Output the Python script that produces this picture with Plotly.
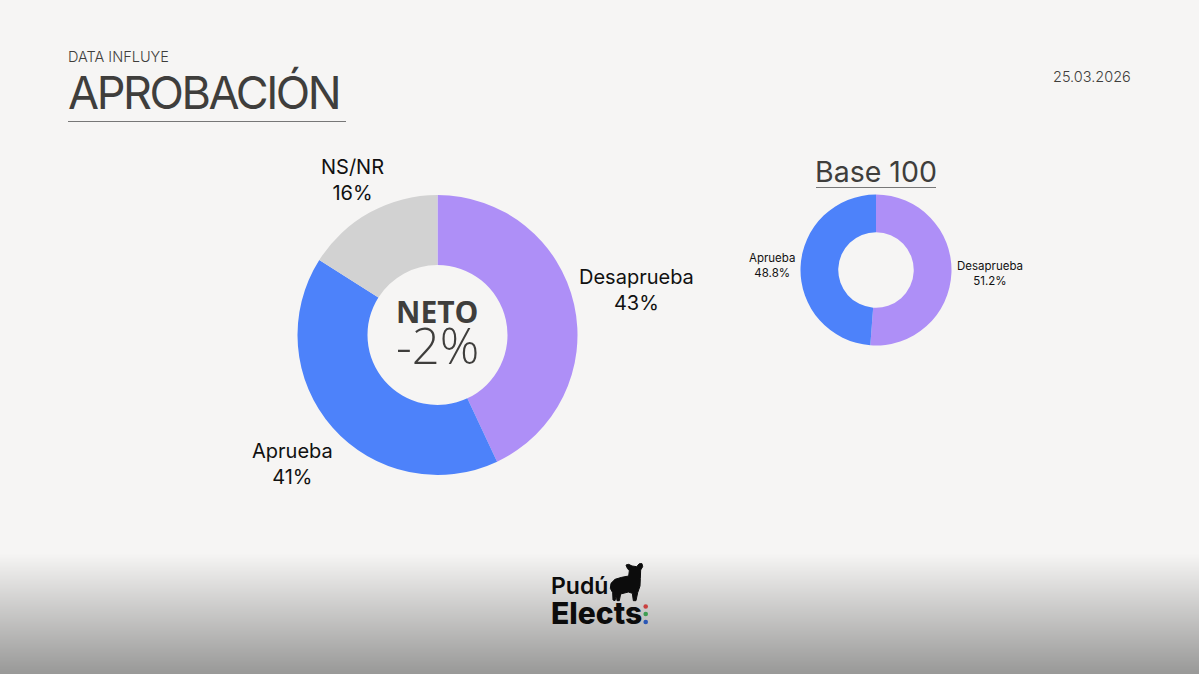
import plotly.graph_objects as go

W = 1199
H = 674
BG = "#F6F5F4"
INK = "#3F3E3C"

labels_main = ["Desaprueba", "Aprueba", "NS/NR"]
values_main = [43, 41, 16]
colors_main = ["#AE8FF7", "#4D82FA", "#D2D2D2"]

labels_base = ["Desaprueba", "Aprueba"]
values_base = [51.2, 48.8]
colors_base = ["#AE8FF7", "#4D82FA"]

neto = -2
fecha = "25.03.2026"
titulo = "APROBACIÓN"


def px(x):
    return x / W


def py(y):
    return 1 - y / H


def donut(labels, values, colors, cx, cy, r):
    return go.Pie(
        labels=labels, values=values, hole=0.5, sort=False, direction="clockwise",
        rotation=0, marker=dict(colors=colors, line=dict(width=0)),
        textinfo="none", hoverinfo="label+percent", showlegend=False,
        domain=dict(x=[px(cx - r), px(cx + r)], y=[py(cy + r), py(cy - r)]),
    )


def label(x, y, text, size, color="#111111", family="Inter", weight=400, anchor="center"):
    return dict(
        x=px(x), y=py(y), xref="paper", yref="paper", text=text, showarrow=False,
        xanchor=anchor, yanchor="middle", align="center",
        font=dict(family=family, size=size, color=color, weight=weight),
    )


def rule(x0, x1, y, color="#777777", width=1.2):
    return dict(type="line", xref="paper", yref="paper", x0=px(x0), x1=px(x1),
                y0=py(y), y1=py(y), line=dict(color=color, width=width))


def dot(cx, cy, r, color):
    return dict(type="circle", xref="paper", yref="paper", x0=px(cx - r), x1=px(cx + r),
                y0=py(cy + r), y1=py(cy - r), fillcolor=color, line=dict(width=0))


fig = go.Figure()
fig.add_trace(donut(labels_main, values_main, colors_main, 437.5, 335, 140))
fig.add_trace(donut(labels_base, values_base, colors_base, 876, 270, 75.5))

# gradient at the bottom of the slide
shapes = []
grad_top = 553
for y in range(grad_top, H):
    t = (y - grad_top) / (H - grad_top)
    c = [round(a + (b - a) * t) for a, b in zip((246, 245, 244), (152, 152, 151))]
    shapes.append(dict(type="rect", xref="paper", yref="paper", x0=0, x1=1,
                       y0=py(y + 1.5), y1=py(y), fillcolor=f"rgb({c[0]},{c[1]},{c[2]})",
                       line=dict(width=0)))

shapes.append(rule(68, 346, 121.5))
shapes.append(rule(816, 936, 187.5))

# logo animal
sheep = [(378, 45), (386, 43), (396, 48), (410, 50), (418, 41), (426, 41), (428, 50), (422, 60),
         (421, 85), (420, 108), (413, 128), (408, 152), (400, 152), (397, 130), (385, 126),
         (362, 132), (358, 152), (351, 152), (349, 136), (345, 152), (339, 150), (338, 128),
         (331, 115), (333, 100), (345, 88), (365, 82), (386, 78), (388, 62), (382, 55)]
sheep_px = [(500 + a / 3, 550 + b / 3) for a, b in sheep]
path = "M " + " L ".join(f"{px(a):.5f},{py(b):.5f}" for a, b in sheep_px) + " Z"
shapes.append(dict(type="path", xref="paper", yref="paper", path=path,
                   fillcolor="#0C0C0C", line=dict(color="#0C0C0C", width=1)))
shapes.append(dot(645.7, 606.5, 2.3, "#C9403F"))
shapes.append(dot(645.7, 614, 2.3, "#3E9E52"))
shapes.append(dot(645.7, 622, 2.3, "#2A57B5"))

annotations = [
    label(66, 57, "DATA INFLUYE", 14.5, INK, weight=300, anchor="left"),
    label(54, 93, titulo, 45, INK, weight=400, anchor="left"),
    label(1133, 76, fecha, 14.5, INK, weight=300, anchor="right"),
    label(636.5, 290.5, f"{labels_main[0]}<br>{values_main[0]}%", 20),
    label(292, 464, f"{labels_main[1]}<br>{values_main[1]}%", 20),
    label(352, 180, f"{labels_main[2]}<br>{values_main[2]}%", 20),
    label(437.5, 311, "NETO", 30, INK, family="Open Sans", weight=700),
    label(437.5, 345, f"{neto}%", 49, INK, family="Open Sans", weight=300),
    label(876, 171, "Base 100", 28.5, INK, weight=400),
    label(990, 274, f"{labels_base[0]}<br>{values_base[0]}%", 11.5),
    label(772, 265.5, f"{labels_base[1]}<br>{values_base[1]}%", 11.5),
    label(548.5, 586, "Pudú", 23, "#0C0C0C", weight=600, anchor="left"),
    label(548.5, 613, "Elects", 30, "#0C0C0C", weight=800, anchor="left"),
]

fig.update_layout(
    width=W, height=H, margin=dict(l=0, r=0, t=0, b=0),
    paper_bgcolor=BG, plot_bgcolor=BG,
    shapes=shapes, annotations=annotations,
)

# the title is set tighter than the font's default spacing
tighten = (
    "document.body.style.margin='0';"
    "document.querySelectorAll('.annotation-text').forEach(function(t){"
    "if(t.textContent==='" + titulo + "'){t.style.letterSpacing='-2.4px';}});"
)
fig.write_html("out.html", post_script=tighten, config={"displayModeBar": False})
